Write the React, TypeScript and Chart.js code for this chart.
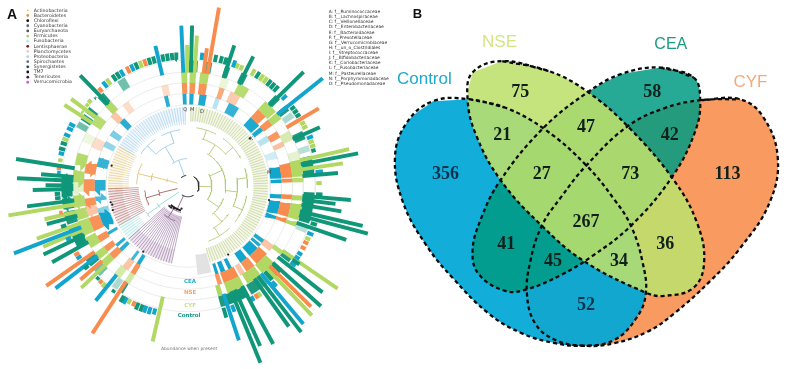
import React, { useEffect, useRef } from "react";
import { Chart, registerables } from "chart.js";

Chart.register(...registerables);

// ---------- Panel A data: [leaf angle in degrees clockwise from north, abundance radius] ----------
const controlBars = [[1.4,164],[12,137],[14.5,137],[16.5,137],[18,151],[26.4,148],[31.8,137],[37.8,137],[39.8,137],[41.8,137],[45,165],[53,135],[55,135],[57,135],[65.7,146],[74,134],[79,175],[85,152],[93.7,136],[95,165],[97,150],[99.5,157],[103,181],[105,188],[107,136],[109,169],[125.5,138],[128.7,174],[132.5,182],[142.6,188],[144.7,176],[152,183],[156,179],[158,195],[164,140],[200.7,137],[202.7,137],[210,137],[215,133],[224,133],[231,135],[240.4,158],[244.4,162],[252,135],[254.7,148],[262.7,164],[264.6,135],[266.5,135],[268.5,157],[270.3,144],[272.6,173],[274.6,149],[279,176],[286.5,136],[289,136],[314,130],[316,157],[326,137],[328,137],[337,137],[343,137],[345,137],[349,137],[351,137],[353,137],[355,137]];
const cyfBars = [[359.6,144],[3.3,154],[22,135],[24,135],[29.5,137],[33.8,137],[35.8,137],[61,135],[63,135],[70,135],[72,135],[77,167],[81.6,158],[88.7,135],[114,135],[124.8,184],[136.6,182],[147,135],[192.7,163],[206.7,135],[220,135],[226,150],[247,159],[250.6,162],[256.8,149],[260.6,184],[281.5,134],[291,136],[303.6,150],[305.3,132],[307,148],[309,133],[311,134],[323,137],[339,137]];
const nseBars = [[7.7,142],[9.7,185],[59,154],[116,135],[118.5,135],[134.8,175],[148.5,135],[204.5,135],[212.7,179],[222,134],[228.6,145],[234.5,176],[238.3,135],[258,133],[278,134],[318,135],[333,137],[341,137]];
const ceaBars = [[357.6,164],[347,147],[6,137],[20.4,137],[47,136],[51,175],[68,136],[83.7,137],[111.6,136],[121.5,135],[123.6,135],[127,136],[139,136],[140.5,183],[150.5,135],[160,137],[162,166],[194.8,136],[197,137],[199,137],[208.5,137],[218.5,150],[232,170],[236.5,135],[246,135],[248.6,189],[276,133],[284.5,135],[293,136],[296,136],[298,136],[321,137],[330,137],[335,137]];

// Heat-rings: [start angle, end angle, intensity]
const ceaRing = [[0.8,3.5,.95],[7,11.5,.95],[17,20,.3],[26,33,.85],[42,49.5,.95],[50.5,53.5,.95],[57,61,.3],[68,72,.2],[78,85,1],[85.8,88,1],[95.5,98,1],[100,107.5,1],[109,111,1],[125.5,128,.95],[129,131,.95],[132,139,1],[141,146,1],[152,154.5,1],[156.5,159.5,1],[161,163,1],[211,213.5,.95],[216,218,.8],[225,227.5,.9],[229,231,.9],[238,240,.9],[244,252,1],[253,256,.5],[260.5,263,.75],[267,274,.9],[282,288,.85],[295,299,.45],[303,307,.55],[313,317,.9],[345,347.5,.9],[356.5,359,.95]];
const nseRing = [[0.8,4,.95],[6,10.5,.95],[17.5,20.5,.75],[24,30,.45],[42,48,.95],[50,54,.95],[58,62,.9],[64.5,67.5,.55],[77,85,1],[85.8,88,1],[95,97.5,1],[100,107.5,1],[109,111,1],[125,129,.5],[131,139,1],[140.5,146,.95],[147,150,.5],[151,160,1],[161,163.5,.9],[210.5,213.5,.95],[215,219,.5],[225,229,.95],[230.5,234,.95],[237,241,.95],[244,252,.95],[253,258,.5],[258.5,263,.95],[267,274,.95],[277,283,.95],[292,298,.3],[312,316,.5],[321,325,.3],[345,349,.3],[356.5,359.5,.95]];
const cyfRing = [[0.8,4,.95],[6,10.5,.95],[17,21,.25],[26,32,.9],[42,49.5,.95],[50,54,.95],[61,66,.5],[72,76,.3],[76.5,85,1],[85.8,88,.9],[95,97.5,1],[99.5,107.5,1],[109,111,1],[124.5,127,.9],[132,140,1],[141,149,1],[151,160,1],[162.5,165,1],[210.5,213.5,.6],[216,220,.55],[225,229,.95],[230,234,.95],[237,243,.95],[244,252,.95],[252.5,258,.95],[259,265,.95],[267,272,.35],[272,278,.95],[281,287,.95],[293,298,.2],[303,308.5,.9],[314,318,.95],[356.5,359.5,.95]];
const controlRing = [[0.5,4.5,1],[7.5,11,.95],[17,19.5,.95],[25,28,.95],[43.5,46.5,.95],[50,53,.95],[54,57,.35],[64,68,.95],[71,74,.3],[76,84.5,1],[93,107.5,1],[108.5,112,.3],[124,127.5,.95],[132,139.5,1],[140,144,.65],[144,150,.95],[151,161.5,1],[162.5,165,.95],[211,213.5,.95],[214,217,.35],[224,228,.6],[230,234,.95],[240,250,1],[252,258,.95],[259,264,.95],[265,275,1],[298,301,.6],[302,305,.95],[306,309,.95],[314.5,318,.95],[326,330,.6]];

// Phylogenetic tree clades: [start angle, end angle, inner radius]
const firmicutesLeaves = [2, 164, 66];
const proteoLeaves = [300, 358, 63];
const actinoLeaves = [268, 300, 60];
const fusoLeaves = [240, 268, 50];
const cyanoLeaves = [228, 240, 58];
const bacteroLeaves = [192, 228, 32];
// Tree branches: arcs [start, end, radius]
const firmicutesArcs = [[8,28,60],[36,62,60],[72,92,60],[100,128,60],[136,160,60],[16,50,50],[80,115,50],[125,150,50],[30,100,38],[110,140,38],[60,125,24]];
const proteoArcs = [[305,325,58],[332,352,58],[315,342,46],[325,358,28]];
const actinoArcs = [[272,296,52],[278,290,38],[280,290,22]];
const fusoArcs = [[244,264,44],[250,262,30]];
const cyanoArcs = [[230,238,50],[232,240,36]];
const bacteroArcs = [[195,226,28],[200,220,38]];
// Tree branches: spokes [angle, inner radius, outer radius]
const firmicutesSpokes = [[18,50,60],[49,50,60],[82,50,60],[114,50,60],[148,50,60],[33,38,50],[97,38,50],[137,38,50],[65,24,38],[125,24,38],[92,11,24]];
const proteoSpokes = [[315,46,58],[342,46,58],[330,28,46],[340,11,28]];
const actinoSpokes = [[284,38,52],[285,22,38],[285,11,22]];
const fusoSpokes = [[254,30,44],[256,11,30]];
const cyanoSpokes = [[235,36,50],[236,11,36]];
const bacteroSpokes = [[205,11,28],[212,28,38]];
const cladeNodes = [[52,79],[100,83],[150,81],[214,81],[252,80],[256,79],[258,80],[285,80],[196,24],[205,26],[212,27],[218,28],[222,28]];
const hubArcs = [[30,120,11],[150,215,11],[320,350,11]];

const phylaNames = ["Actinobacteria","Bacteroidetes","Chloroflexi","Cyanobacteria","Euryarchaeota","Firmicutes","Fusobacteria","Lentisphaerae","Planctomycetes","Proteobacteria","Spirochaetes","Synergistetes","TM7","Tenericutes","Verrucomicrobia"];
const phylaColors = ["#f0c050","#ee8a45","#111111","#666666","#555555","#a8d060","#bfe6ee","#701c30","#f4c8b8","#a6d2ee","#64708a","#1d4d3a","#111111","#40184f","#d060d0"];
const familyNames = ["A: f__Ruminococcaceae","B: f__Lachnospiraceae","C: f__Veillonellaceae","D: f__Enterobacteriaceae","E: f__Bacteroidaceae","F: f__Prevotellaceae","G: f__Verrucomicrobiaceae","H: f__un_o_Clostridiales","I: f__Streptococcaceae","J: f__Bifidobacteriaceae","K: f__Coriobacteriaceae","L: f__Fusobacteriaceae","M: f__Pasteurellaceae","N: f__Porphyromonadaceae","O: f__Pseudomonadaceae"];

// ---------- Panel B data ----------
const vennCounts = ["75","58","21","47","42","356","27","73","113","267","41","36","45","34","52"];
const vennCountAt = [[395,270],[795,270],[340,404],[594,378],[848,404],[168,523],[460,523],[728,523],[1023,523],[594,670],[352,738],[834,738],[494,790],[694,790],[594,924]];
const controlOutline = [[240,292],[350,318],[470,385],[595,495],[680,600],[730,680],[765,790],[775,890],[745,965],[680,1030],[590,1048],[500,1040],[400,1010],[300,950],[190,840],[110,740],[40,610],[15,470],[50,365],[130,298]];
const cyfOutline = [[940,295],[1060,292],[1130,345],[1175,470],[1150,610],[1060,750],[970,850],[860,950],[780,1005],[680,1040],[590,1048],[500,1030],[440,980],[415,890],[425,790],[460,680],[520,590],[595,495],[720,375],[830,320]];
const nseOutline = [[340,175],[480,205],[600,270],[730,385],[860,540],[930,670],[952,790],[920,870],[830,895],[775,885],[590,790],[460,680],[335,540],[260,400],[235,290],[250,210]];
const ceaOutline = [[820,195],[920,225],[940,295],[925,390],[855,530],[730,680],[610,775],[520,830],[415,875],[350,880],[270,830],[250,760],[275,660],[335,540],[465,380],[600,270],[700,215]];

// ---------- Styling ----------
const CX = 186, CY = 186;
const TEAL = "16,150,120", BLUE = "18,165,205", ORANGE = "248,140,78", GREEN = "176,216,98";
const polar = (deg: number, r: number) => {
  const a = (deg * Math.PI) / 180;
  return { x: CX + r * Math.sin(a), y: CY - r * Math.cos(a) };
};
const arcPts = (a0: number, a1: number, r: number) => {
  const pts = [];
  const n = Math.max(1, Math.ceil(Math.abs(a1 - a0) / 1.5));
  for (let i = 0; i <= n; i++) pts.push(polar(a0 + ((a1 - a0) * i) / n, r));
  return pts;
};
const vennPt = (p: number[]) => ({ x: 390 + p[0] / 3, y: p[1] / 3 });

function buildDatasets() {
  const ds: any[] = [];
  const line = (data: any[], color: string, width: number, extra: any = {}) =>
    ds.push({ type: "line", data, borderColor: color, borderWidth: width, pointRadius: 0, fill: false, tension: 0, borderCapStyle: "butt", borderJoinStyle: "bevel", ...extra });

  // Guide rings
  [83, 94.5, 105.5, 116.5, 128.5].forEach((r) => line(arcPts(0, 360, r), "#ebebeb", 1));
  // Grey highlighted clade
  line(arcPts(165, 174, 81), "#e2e2e2", 20);

  // Clade tints and leaves
  const clades: [number[], number[][], number[][], string][] = [
    [firmicutesLeaves, firmicutesArcs, firmicutesSpokes, "182,200,120"],
    [proteoLeaves, proteoArcs, proteoSpokes, "150,200,232"],
    [actinoLeaves, actinoArcs, actinoSpokes, "226,196,120"],
    [fusoLeaves, fusoArcs, fusoSpokes, "170,96,96"],
    [cyanoLeaves, cyanoArcs, cyanoSpokes, "150,215,215"],
    [bacteroLeaves, bacteroArcs, bacteroSpokes, "140,100,150"],
  ];
  clades.forEach(([leaf, arcs, spokes, rgb]) => {
    line(arcPts(leaf[0], leaf[1], 73.5), `rgba(${rgb},0.16)`, 14);
    for (let a = leaf[0]; a <= leaf[1]; a += 2) {
      line([polar(a, leaf[2]), polar(a, 81)], `rgba(${rgb},0.8)`, 0.7);
    }
    arcs.forEach((s) => line(arcPts(s[0], s[1], s[2]), `rgba(${rgb},1)`, 0.9));
    spokes.forEach((s) => line([polar(s[0], s[1]), polar(s[0], s[2])], `rgba(${rgb},1)`, 0.9));
  });
  hubArcs.forEach((s) => line(arcPts(s[0], s[1], s[2]), "#333333", 1));
  line(arcPts(196, 222, 26), "#222222", 2);

  // Heat rings
  const rings: [number[][], string, number][] = [
    [ceaRing, BLUE, 89],
    [nseRing, ORANGE, 100],
    [cyfRing, GREEN, 111],
    [controlRing, TEAL, 122.5],
  ];
  rings.forEach(([segs, rgb, r]) => {
    segs.forEach((s) => line(arcPts(s[0], s[1], r), `rgba(${rgb},${s[2]})`, 11));
  });

  // Outer abundance bars
  const bars: [number[][], string][] = [
    [cyfBars, GREEN],
    [nseBars, ORANGE],
    [ceaBars, BLUE],
    [controlBars, TEAL],
  ];
  bars.forEach(([rows, rgb]) => {
    rows.forEach((b) => line([polar(b[0], b[1] > 140 ? 116 : 129.5), polar(b[0], b[1])], `rgb(${rgb})`, 3.9));
  });

  // Small nodes
  ds.push({ type: "line", data: cladeNodes.map((n) => polar(n[0], n[1])), showLine: false, pointRadius: 1.1, pointBackgroundColor: "#222222", pointBorderWidth: 0 });

  // Phyla legend markers
  phylaNames.forEach((_, i) => {
    ds.push({ type: "line", data: [{ x: 24, y: 6.5 + i * 5.25 }], showLine: false, pointRadius: 1.4, pointBackgroundColor: phylaColors[i], pointBorderWidth: 0, pointStyle: i === 0 ? "triangle" : "circle" });
  });

  // Venn fills (bottom to top)
  const vennFill = (pts: number[][], color: string) =>
    ds.push({ type: "line", data: pts.map(vennPt), borderWidth: 0, borderColor: "transparent", backgroundColor: color, fill: "shape", tension: 0.4, pointRadius: 0 });
  vennFill(cyfOutline, "#f99a60");
  vennFill(controlOutline, "rgba(0,168,214,0.93)");
  vennFill(ceaOutline, "rgba(0,155,130,0.85)");
  vennFill(nseOutline, "rgba(189,224,108,0.88)");
  // Venn dashed outlines
  [controlOutline, cyfOutline, nseOutline, ceaOutline].forEach((o) => {
    const loop = [...o, o[0], o[1]].map(vennPt);
    ds.push({ type: "line", data: loop, borderColor: "#0a0a0a", borderWidth: 2.3, borderDash: [4, 3], borderCapStyle: "butt", fill: false, tension: 0.4, pointRadius: 0 });
  });

  // Chart.js paints the first dataset last, so reverse to keep painter's order
  return ds.reverse();
}

const textPlugin = {
  id: "panelText",
  afterDatasetsDraw(chart: any) {
    const { ctx, scales } = chart;
    const put = (t: string, x: number, y: number, font: string, color: string, align: CanvasTextAlign = "left") => {
      ctx.save();
      ctx.font = font;
      ctx.fillStyle = color;
      ctx.textAlign = align;
      ctx.textBaseline = "middle";
      ctx.fillText(t, scales.x.getPixelForValue(x), scales.y.getPixelForValue(y));
      ctx.restore();
    };
    put("A", 3, 11, "bold 14px 'Liberation Sans'", "#111");
    put("B", 413, 10.5, "bold 13px 'Liberation Sans'", "#111");
    phylaNames.forEach((n, i) => put(n, 30, 6.5 + i * 5.25, "4.7px 'DejaVu Sans'", "#333"));
    familyNames.forEach((n, i) => put(n, 328, 8 + i * 5.25, "4.4px 'DejaVu Sans'", "#333"));
    put("CEA", 188, 284, "bold 5.5px 'DejaVu Sans'", "#1fb0cf", "center");
    put("NSE", 188, 295, "bold 5.5px 'DejaVu Sans'", "#f5a36a", "center");
    put("CYF", 188, 308, "bold 5.5px 'DejaVu Sans'", "#c5de84", "center");
    put("Control", 187, 318.5, "bold 5.5px 'DejaVu Sans'", "#139a86", "center");
    put("Abundance when present", 187, 352, "4.4px 'DejaVu Sans'", "#777", "center");
    put("Q", 183, 108, "5px 'DejaVu Sans'", "#444", "center");
    put("M", 190, 108, "5px 'DejaVu Sans'", "#444", "center");
    put("D", 200, 110, "5px 'DejaVu Sans'", "#444", "center");
    put("K", 250, 138, "5px 'DejaVu Sans'", "#444", "center");
    put("M", 268, 172, "5px 'DejaVu Sans'", "#444", "center");
    put("Control", 397, 77, "17px 'Liberation Sans'", "#1fa9cb");
    put("NSE", 483, 39, "17px 'Liberation Sans'", "#d3e585");
    put("CEA", 657, 42, "16px 'Liberation Sans'", "#1d9a80");
    put("CYF", 737, 80, "17px 'Liberation Sans'", "#f5a97a");
    vennCounts.forEach((c, i) => {
      const p = vennPt(vennCountAt[i]);
      const navy = c === "356" || c === "52";
      put(c, p.x, p.y, "bold 18px 'Liberation Serif'", navy ? "#0b3350" : "#10201a", "center");
    });
  },
};

export default function App() {
  const ref = useRef<HTMLCanvasElement>(null);
  useEffect(() => {
    const chart = new Chart(ref.current as HTMLCanvasElement, {
      type: "line",
      data: { datasets: buildDatasets() },
      options: {
        animation: false,
        responsive: false,
        maintainAspectRatio: false,
        layout: { padding: 0 },
        events: [],
        plugins: { legend: { display: false }, title: { display: false }, tooltip: { enabled: false } },
        scales: {
          x: { type: "linear", min: 0, max: 787, display: false },
          y: { type: "linear", min: 0, max: 369, reverse: true, display: false },
        },
      },
      plugins: [textPlugin],
    } as any);
    return () => chart.destroy();
  }, []);
  return (
    <div style={{ position: "fixed", left: 0, top: 0, width: 787, height: 369, background: "#fff" }}>
      <canvas ref={ref} width={787} height={369} style={{ display: "block", width: 787, height: 369 }} />
    </div>
  );
}
